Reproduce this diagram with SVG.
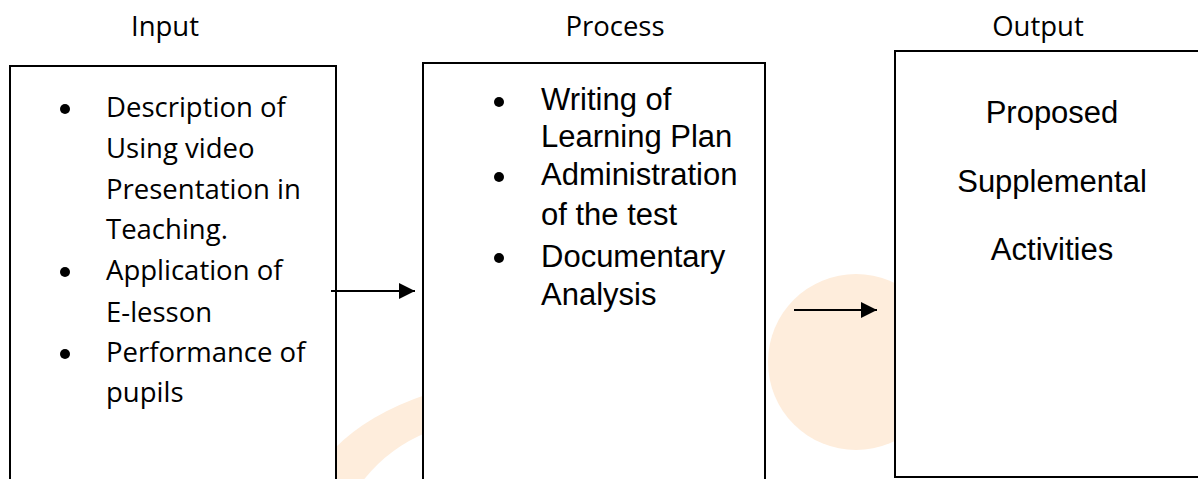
<svg xmlns="http://www.w3.org/2000/svg" width="1198" height="479" viewBox="0 0 1198 479">
<style>
.box{fill:#ffffff;stroke:#000000;stroke-width:2}
.hdr{font-family:"Open Sans","DejaVu Sans",sans-serif;font-size:27.5px;fill:#000;text-anchor:middle}
.tah{font-family:"Open Sans","DejaVu Sans",sans-serif;font-size:27.5px;fill:#000}
.ari{font-family:"Liberation Sans",Arial,sans-serif;font-size:31px;fill:#000}
.bul{fill:#000}
.wm{fill:#feeddc;stroke:none}
.conn{stroke:#000;stroke-width:2;fill:none}
</style>
<defs>
<marker id="ah" viewBox="0 0 16 16" refX="16" refY="8" markerWidth="16" markerHeight="16" markerUnits="userSpaceOnUse" orient="auto">
<path d="M0 0 L16 8 L0 16 Z" fill="#000"/>
</marker>
</defs>
<rect width="1198" height="479" fill="#ffffff"/>
<g id="watermark">
<path class="wm" d="M334 449 Q368 414 428 394 L428 432 Q388 448 362 482 L334 482 Z"/>
<circle class="wm" cx="856" cy="362" r="88"/>
</g>
<g id="headers">
<text class="hdr" x="165" y="36">Input</text>
<text class="hdr" x="615" y="36">Process</text>
<text class="hdr" x="1038" y="36">Output</text>
</g>
<g id="input">
<rect class="box" x="10" y="66" width="326" height="430"/>
<circle class="bul" cx="65" cy="109" r="5"/>
<circle class="bul" cx="65" cy="272" r="5"/>
<circle class="bul" cx="65" cy="354" r="5"/>
<text class="tah" x="106" y="117">Description of</text>
<text class="tah" x="106" y="158">Using video</text>
<text class="tah" x="106" y="199">Presentation in</text>
<text class="tah" x="106" y="239">Teaching.</text>
<text class="tah" x="106" y="280">Application of</text>
<text class="tah" x="106" y="322">E-lesson</text>
<text class="tah" x="106" y="362">Performance of</text>
<text class="tah" x="106" y="402">pupils</text>
</g>
<g id="process">
<rect class="box" x="423" y="63" width="342" height="430"/>
<circle class="bul" cx="499" cy="102" r="5"/>
<circle class="bul" cx="499" cy="177" r="5"/>
<circle class="bul" cx="499" cy="258" r="5"/>
<text class="ari" x="541" y="110">Writing of</text>
<text class="ari" x="541" y="147">Learning Plan</text>
<text class="ari" x="541" y="185">Administration</text>
<text class="ari" x="541" y="225">of the test</text>
<text class="ari" x="541" y="267">Documentary</text>
<text class="ari" x="541" y="305">Analysis</text>
</g>
<g id="output">
<rect class="box" x="895" y="51" width="304" height="426"/>
<text class="ari" x="1052" y="123" text-anchor="middle">Proposed</text>
<text class="ari" x="1052" y="192" text-anchor="middle">Supplemental</text>
<text class="ari" x="1052" y="260" text-anchor="middle">Activities</text>
</g>
<g id="connectors">
<line class="conn" x1="331" y1="291" x2="415" y2="291" marker-end="url(#ah)"/>
<line class="conn" x1="794" y1="310" x2="877" y2="310" marker-end="url(#ah)"/>
</g>
</svg>
